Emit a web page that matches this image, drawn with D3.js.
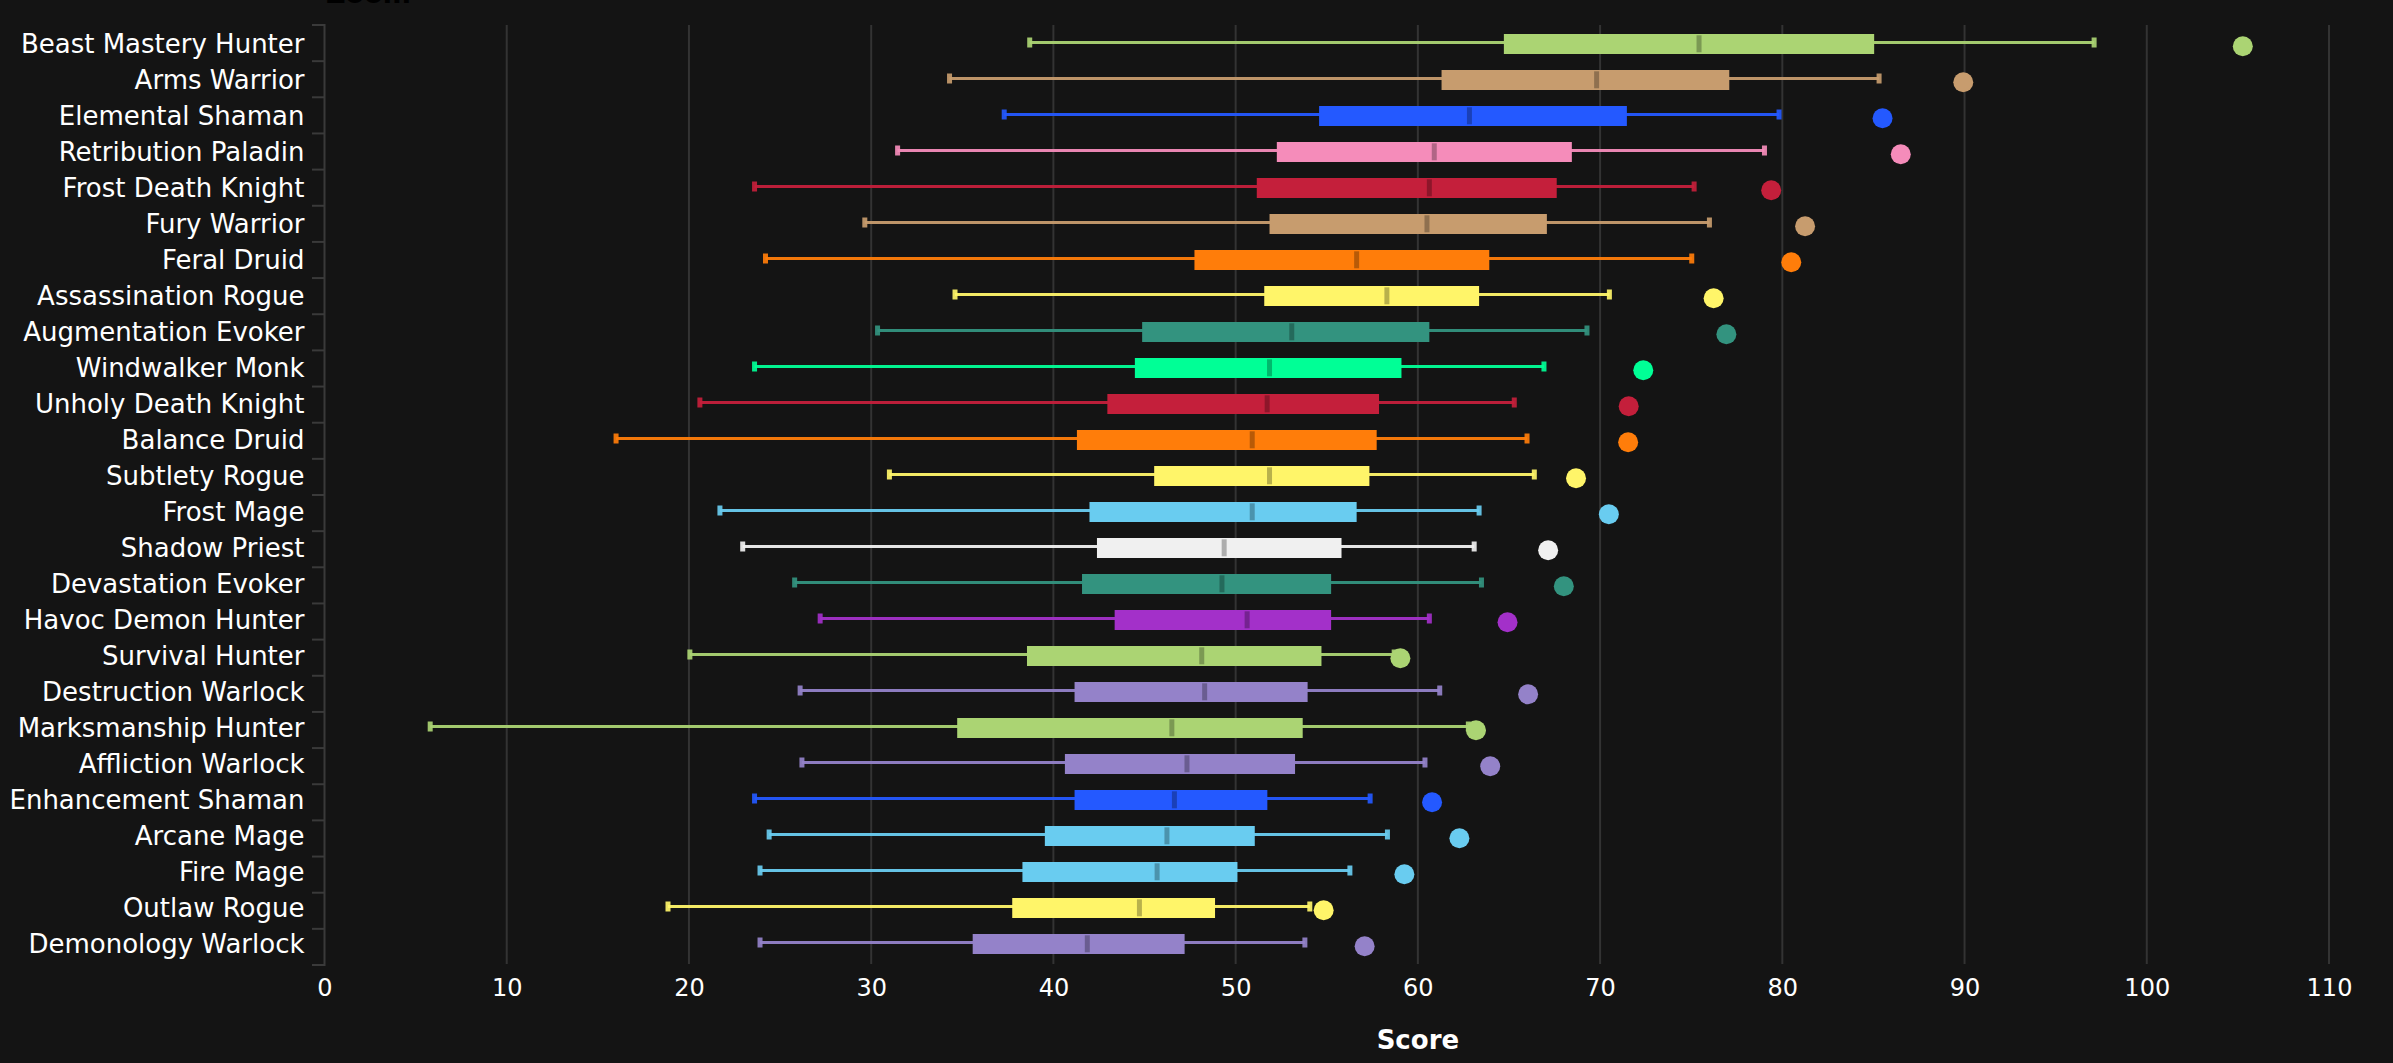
<!DOCTYPE html>
<html lang="en">
<head>
    <meta charset="utf-8">
    <title>Score by spec</title>
    <script src="https://cdn.jsdelivr.net/npm/d3@7"></script>
    <style>
        html, body { margin: 0; padding: 0; background: #141414; overflow: hidden; }
        text { font-family: "DejaVu Sans", sans-serif; }
    </style>
</head>
<body>
<script type="text/javascript">
    var specs = [
        "Beast Mastery Hunter", "Arms Warrior", "Elemental Shaman", "Retribution Paladin",
        "Frost Death Knight", "Fury Warrior", "Feral Druid", "Assassination Rogue",
        "Augmentation Evoker", "Windwalker Monk", "Unholy Death Knight", "Balance Druid",
        "Subtlety Rogue", "Frost Mage", "Shadow Priest", "Devastation Evoker",
        "Havoc Demon Hunter", "Survival Hunter", "Destruction Warlock", "Marksmanship Hunter",
        "Affliction Warlock", "Enhancement Shaman", "Arcane Mage", "Fire Mage",
        "Outlaw Rogue", "Demonology Warlock"
    ];
    var whiskerLow = [38.7, 34.3, 37.3, 31.45, 23.6, 29.65, 24.2, 34.6, 30.35, 23.6, 20.6, 16.0, 31.0,
        21.7, 22.95, 25.8, 27.2, 20.05, 26.1, 5.8, 26.2, 23.6, 24.4, 23.9, 18.85, 23.9];
    var q1 = [64.72, 61.3, 54.58, 52.26, 51.16, 51.86, 47.74, 51.57, 44.87, 44.47, 42.96, 41.29, 45.53,
        41.98, 42.39, 41.57, 43.36, 38.55, 41.16, 34.72, 40.63, 41.16, 39.53, 38.3, 37.74, 35.57];
    var medians = [75.43, 69.81, 62.83, 60.9, 60.63, 60.5, 56.64, 58.3, 53.08, 51.86, 51.73, 50.91, 51.86,
        50.91, 49.37, 49.25, 50.63, 48.14, 48.3, 46.5, 47.33, 46.64, 46.23, 45.69, 44.72, 41.86];
    var q3 = [85.04, 77.09, 71.47, 68.45, 67.62, 67.08, 63.92, 63.36, 60.63, 59.1, 57.87, 57.74, 57.34,
        56.64, 55.81, 55.24, 55.24, 54.71, 53.95, 53.68, 53.26, 51.74, 51.05, 50.1, 48.87, 47.2];
    var whiskerHigh = [97.11, 85.31, 79.82, 79.02, 75.16, 76.0, 75.03, 70.51, 69.28, 66.92, 65.29, 65.99, 66.39,
        63.36, 63.09, 63.49, 60.63, 58.7, 61.2, 62.77, 60.39, 57.38, 58.33, 56.27, 54.07, 53.8];
    var topScores = [105.27, 89.93, 85.5, 86.5, 79.39, 81.25, 80.49, 76.23, 76.93, 72.37, 71.57, 71.54, 68.68,
        70.48, 67.15, 68.01, 64.92, 59.04, 66.05, 63.19, 63.97, 60.78, 62.28, 59.26, 54.83, 57.08];
    var xTicks = [0, 10, 20, 30, 40, 50, 60, 70, 80, 90, 100, 110];

    var classNames = ["Hunter", "Warrior", "Shaman", "Paladin", "Death Knight", "Druid",
        "Rogue", "Evoker", "Monk", "Mage", "Priest", "Demon Hunter", "Warlock"];
    var classColors = ["#abd473", "#c79c6e", "#2459ff", "#f58cba", "#c41f3b", "#ff7d0a",
        "#fff569", "#33937f", "#00ff96", "#69ccf0", "#f0f0f0", "#a330c9", "#9482c9"];

    var w = 2393;
    var h = 1063;
    var gridColor = "#333333";

    var xScale = d3.scaleLinear().domain([0, 110]).range([324.5, 2329]);
    // rows sit on a 36px step, the tick marks on a slightly longer one
    var yScale = d3.scaleBand().domain(specs).range([26, 962]);
    var tickScale = d3.scaleBand().domain(specs).range([25, 965]);
    var colorScale = d3.scaleOrdinal().domain(classNames).range(classColors);

    function classOf(spec) {
        // longest name first so "Demon Hunter" does not end up as "Hunter"
        var names = classNames.slice().sort(function(a, b) { return b.length - a.length; });
        return names.find(function(n) { return spec.endsWith(n); });
    }
    function rowColor(d) {
        return colorScale(classOf(d.spec));
    }

    var rows = specs.map(function(s, i) {
        return {
            spec: s, low: whiskerLow[i], q1: q1[i], median: medians[i],
            q3: q3[i], high: whiskerHigh[i], top: topScores[i]
        };
    });

    var svg = d3.select("body")
        .append("svg")
        .attr("width", w)
        .attr("height", h)
        .style("display", "block");

    // cut off dark title at the very top of the frame
    svg.append("text")
        .attr("x", 326)
        .attr("y", 3)
        .attr("font-size", "27px")
        .attr("font-weight", "bold")
        .attr("fill", "#000000")
        .text("Zoom");

    // grid
    svg.append("g")
        .selectAll("line")
        .data(xTicks.slice(1))
        .enter()
        .append("line")
        .attr("x1", function(d) { return xScale(d); })
        .attr("x2", function(d) { return xScale(d); })
        .attr("y1", 25)
        .attr("y2", 964)
        .attr("stroke", gridColor)
        .attr("stroke-width", 2);

    // x axis, ticks and domain hidden
    var xAxis = d3.axisBottom(xScale).tickValues(xTicks).tickSize(0).tickPadding(14);
    var xG = svg.append("g").attr("transform", "translate(0,965)").call(xAxis);
    xG.select(".domain").remove();
    xG.selectAll("text")
        .attr("font-size", "24px")
        .attr("font-family", "DejaVu Sans")
        .attr("fill", "#ffffff");

    svg.append("text")
        .attr("x", xScale(60))
        .attr("y", 1049)
        .attr("text-anchor", "middle")
        .attr("font-size", "26px")
        .attr("font-weight", "bold")
        .attr("fill", "#ffffff")
        .text("Score");

    // y axis labels
    var yAxis = d3.axisLeft(yScale).tickSize(0).tickPadding(20);
    var yG = svg.append("g").attr("transform", "translate(324.5,1)").call(yAxis);
    yG.select(".domain").remove();
    yG.selectAll("text")
        .attr("font-size", "26px")
        .attr("font-family", "DejaVu Sans")
        .attr("fill", "#ffffff");

    // y axis line and tick marks on the band edges
    svg.append("line")
        .attr("x1", 324.5).attr("x2", 324.5)
        .attr("y1", 24).attr("y2", 966)
        .attr("stroke", "#3a3a3a")
        .attr("stroke-width", 2);
    svg.append("g")
        .selectAll("line")
        .data(specs.concat(["end"]))
        .enter()
        .append("line")
        .attr("x1", 312)
        .attr("x2", 325)
        .attr("y1", function(d, i) { return 25 + i * tickScale.step(); })
        .attr("y2", function(d, i) { return 25 + i * tickScale.step(); })
        .attr("stroke", "#3a3a3a")
        .attr("stroke-width", 2);

    var row = svg.append("g")
        .selectAll("g")
        .data(rows)
        .enter()
        .append("g")
        .attr("transform", function(d) {
            return "translate(0," + (yScale(d.spec) + yScale.bandwidth() / 2) + ")";
        });

    // whisker
    row.append("line")
        .attr("x1", function(d) { return xScale(d.low); })
        .attr("x2", function(d) { return xScale(d.high); })
        .attr("y1", -1.5)
        .attr("y2", -1.5)
        .attr("stroke", rowColor)
        .attr("stroke-opacity", 0.95)
        .attr("stroke-width", 3);

    // whisker caps
    ["low", "high"].forEach(function(key) {
        row.append("rect")
            .attr("x", function(d) { return xScale(d[key]) - 2.5; })
            .attr("y", -6.5)
            .attr("width", 5)
            .attr("height", 10)
            .attr("fill", rowColor)
            .attr("fill-opacity", 0.92);
    });

    // box
    row.append("rect")
        .attr("x", function(d) { return xScale(d.q1); })
        .attr("y", -10)
        .attr("width", function(d) { return xScale(d.q3) - xScale(d.q1); })
        .attr("height", 20)
        .attr("fill", rowColor);

    // median
    row.append("rect")
        .attr("x", function(d) { return xScale(d.median) - 2.5; })
        .attr("y", -8.7)
        .attr("width", 5)
        .attr("height", 17)
        .attr("fill", "#000000")
        .attr("fill-opacity", 0.28);

    // best score dot
    row.append("circle")
        .attr("cx", function(d) { return xScale(d.top); })
        .attr("cy", 2.3)
        .attr("r", 10)
        .attr("fill", rowColor);
</script>
</body>
</html>
